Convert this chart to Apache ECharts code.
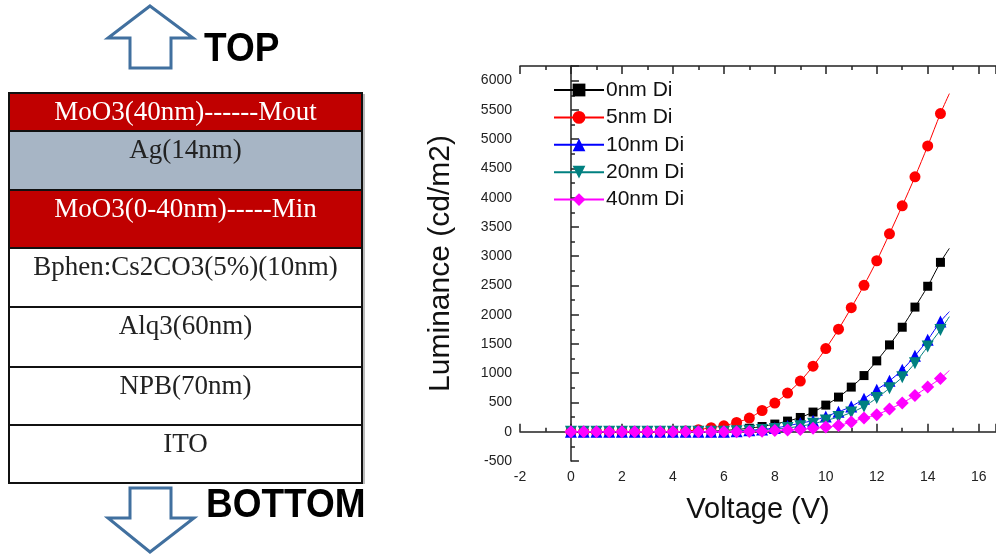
<!DOCTYPE html>
<html>
<head>
<meta charset="utf-8">
<script src="https://cdn.jsdelivr.net/npm/echarts@6/dist/echarts.min.js"></script>
<style>html,body{margin:0;padding:0;background:#fff}#c{width:996px;height:554px}</style>
</head>
<body>
<div id="c"></div>
<script>
// ---- data ----
const voltage = [0,0.5,1,1.5,2,2.5,3,3.5,4,4.5,5,5.5,6,6.5,7,7.5,8,8.5,9,9.5,10,10.5,11,11.5,12,12.5,13,13.5,14,14.5];
const lum0nm  = [0,0,0,0,0,0,0,0,0,0,0,10,22,38,60,90,131,182,244,336,455,592,763,960,1211,1484,1786,2130,2486,2895];
const lum5nm  = [0,0,0,0,0,0,0,0,0,12,34,70,102,159,234,363,490,660,865,1121,1421,1752,2120,2503,2922,3383,3861,4356,4884,5437];
const lum10nm = [0,0,0,0,0,0,0,0,0,0,0,0,0,10,25,40,65,100,148,188,261,341,432,563,717,870,1058,1297,1570,1882];
const lum20nm = [0,0,0,0,0,0,0,0,0,0,0,0,0,8,18,30,45,65,95,136,193,251,329,432,575,745,933,1172,1455,1740];
const lum40nm = [0,0,0,0,0,0,0,0,0,0,0,0,0,0,5,10,20,30,40,60,80,107,165,234,290,387,490,620,763,910];
// fitted-curve end points (line continues past last marker)
const fitEndV = 14.85;
const fitEnd = [3134, 5778, 2053, 1967, 1046];
const seriesNames = ['0nm Di','5nm Di','10nm Di','20nm Di','40nm Di'];
const xTicks = {min: -2, max: 16.68, interval: 2};
const yTicks = {min: -500, max: 6250, interval: 500};
const layers = ['MoO3(40nm)------Mout','Ag(14nm)','MoO3(0-40nm)-----Min','Bphen:Cs2CO3(5%)(10nm)','Alq3(60nm)','NPB(70nm)','ITO'];
const topLabel = 'TOP';
const bottomLabel = 'BOTTOM';
const xTitle = 'Voltage (V)';
const yTitle = 'Luminance (cd/m2)';

// ---- styles / layout ----
const colors = ['#000000','#ff0000','#0000ff','#008080','#ff00ff'];
const symbols = ['rect','circle','triangle','triangle','diamond'];
const symbolSizes = [9,11,12,12,13];
const symbolRot = [0,0,0,180,0];
const allData = [lum0nm, lum5nm, lum10nm, lum20nm, lum40nm];

const layerHeights = [38,59,58,59,60,58,58];
const layerFill = ['#c00000','#a7b5c5','#c00000','#ffffff','#ffffff','#ffffff','#ffffff'];
const layerText = ['#ffffff','#222222','#ffffff','#222222','#222222','#222222','#222222'];
const boxLeft = 9, boxRight = 362, boxTop = 93;

const graphics = [];
let yCur = boxTop;
layers.forEach((name, i) => {
  const h = layerHeights[i];
  graphics.push({type:'rect', shape:{x:boxLeft, y:yCur, width:boxRight-boxLeft, height:h},
    style:{fill:layerFill[i], stroke:'#111', lineWidth:2}, z:1});
  graphics.push({type:'text', x:(boxLeft+boxRight)/2, y:yCur+20,
    style:{text:name, fill:layerText[i], font:'27px "Liberation Serif", "Times New Roman", serif',
      textAlign:'center', textVerticalAlign:'middle'}, z:2});
  yCur += h;
});
graphics.push({type:'line', shape:{x1:boxRight+2, y1:boxTop+1, x2:boxRight+2, y2:yCur+1},
  style:{stroke:'#bbbbbb', lineWidth:2}, z:0});
// arrows
graphics.push({type:'polygon', shape:{points:[[150,6],[193,38],[171,38],[171,68],[130,68],[130,38],[108,38]]},
  style:{fill:'#ffffff', stroke:'#41709f', lineWidth:3, lineJoin:'miter'}, z:2});
graphics.push({type:'polygon', shape:{points:[[130,488],[171,488],[171,518],[194,518],[150,552],[108,518],[130,518]]},
  style:{fill:'#ffffff', stroke:'#41709f', lineWidth:3, lineJoin:'miter'}, z:2});
graphics.push({type:'text', x:204, y:50, scaleY:1.1, originX:0, originY:0,
  style:{text:topLabel, fill:'#000', font:'bold 37px "Liberation Sans", Arial, sans-serif', textVerticalAlign:'middle'}, z:2});
graphics.push({type:'text', x:206, y:506, scaleY:1.1, originX:0, originY:0,
  style:{text:bottomLabel, fill:'#000', font:'bold 37px "Liberation Sans", Arial, sans-serif', textVerticalAlign:'middle'}, z:2});

const series = seriesNames.map((n, i) => {
  const d = voltage.map((v, k) => [v, allData[i][k]]);
  d.push({value:[fitEndV, fitEnd[i]], symbol:'none'});
  return {
    name:n, type:'line', data:d, smooth:0.3,
    symbol:symbols[i], symbolSize:symbolSizes[i], symbolRotate:symbolRot[i],
    itemStyle:{color:colors[i]}, lineStyle:{color:colors[i], width:1},
    z: 2 + i
  };
});

const axisCommon = {
  axisLine:{show:true, lineStyle:{color:'#222', width:1.5}},
  axisTick:{show:true, inside:true, length:8, lineStyle:{color:'#222', width:1.5}},
  minorTick:{show:true, splitNumber:2, length:4, lineStyle:{color:'#222', width:1.5}},
  splitLine:{show:false}
};
const plain = v => String(v);

const chart = echarts.init(document.getElementById('c'));
chart.setOption({
  animation:false,
  backgroundColor:'#ffffff',
  graphic:graphics,
  grid:{left:520, top:66, width:476, height:395, containLabel:false},
  legend:{
    orient:'vertical', left:548, top:74, itemWidth:50, itemHeight:16, itemGap:5.4,
    textStyle:{fontSize:21, fontFamily:'"Liberation Sans", Arial, sans-serif', color:'#111', lineHeight:22, padding:[0,0,0,-3]},
    data:seriesNames
  },
  xAxis:[
    Object.assign({type:'value', position:'bottom', min:xTicks.min, max:xTicks.max, interval:xTicks.interval,
      name:xTitle, nameLocation:'middle', nameGap:34,
      nameTextStyle:{fontSize:29, fontFamily:'"Liberation Sans", Arial, sans-serif', color:'#111'},
      axisLabel:{fontSize:14, margin:9, color:'#222', showMaxLabel:false, formatter:plain,
        fontFamily:'"Liberation Sans", Arial, sans-serif'}}, axisCommon),
    Object.assign({type:'value', position:'top', min:xTicks.min, max:xTicks.max, interval:xTicks.interval,
      axisLabel:{show:false}}, axisCommon)
  ],
  yAxis:[
    Object.assign({type:'value', position:'left', min:yTicks.min, max:yTicks.max, interval:yTicks.interval,
      name:yTitle, nameLocation:'middle', nameGap:64, nameRotate:90,
      nameTextStyle:{fontSize:30, fontFamily:'"Liberation Sans", Arial, sans-serif', color:'#111'},
      axisLabel:{fontSize:14, margin:8, color:'#222', showMaxLabel:false, formatter:plain,
        fontFamily:'"Liberation Sans", Arial, sans-serif'}}, axisCommon)
  ],
  series:series
});
</script>
</body>
</html>
